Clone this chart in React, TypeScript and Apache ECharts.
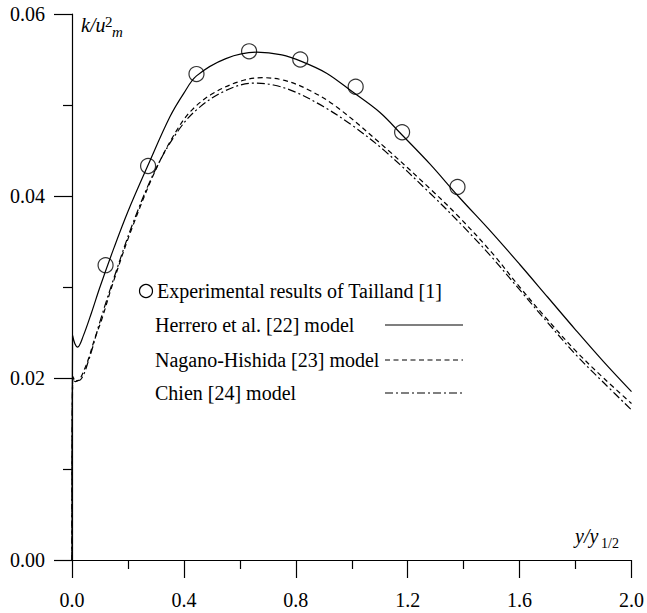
import { useEffect, useRef } from "react";
import * as echarts from "echarts";

// ---- data ----
const xTicks = { min: 0, max: 2.0, interval: 0.4 };
const yTicks = { min: 0, max: 0.06, interval: 0.02 };

const experimental: [number, number][] = [
  [0.12, 0.0324], [0.272, 0.0433], [0.445, 0.0534], [0.633, 0.0559],
  [0.816, 0.0550], [1.014, 0.0520], [1.18, 0.0470], [1.378, 0.0410],
];

const herrero: [number, number][] = [
  [0, 0], [0.002, 0.0247], [0.01, 0.0238], [0.02, 0.0234], [0.04, 0.0246],
  [0.07, 0.0272], [0.1, 0.0300], [0.15, 0.0343], [0.2, 0.0383], [0.272, 0.0434],
  [0.35, 0.0487], [0.4, 0.0513], [0.445, 0.0532], [0.55, 0.0551], [0.66, 0.0558],
  [0.75, 0.0555], [0.82, 0.0548], [0.91, 0.0535], [1.0, 0.0515], [1.1, 0.0492],
  [1.18, 0.0467], [1.28, 0.0435], [1.38, 0.0400], [1.5, 0.0360], [1.6, 0.0325],
  [1.7, 0.0289], [1.8, 0.0253], [1.9, 0.0218], [2.0, 0.0185],
];

const nagano: [number, number][] = [
  [0, 0], [0.003, 0.0201], [0.012, 0.0196], [0.028, 0.0199], [0.045, 0.0210],
  [0.06, 0.0222], [0.08, 0.0242], [0.106, 0.0264], [0.145, 0.0303], [0.216, 0.0366],
  [0.304, 0.0432], [0.38, 0.0475], [0.43, 0.0495], [0.5, 0.0512], [0.6, 0.0526],
  [0.68, 0.0530], [0.76, 0.0527], [0.85, 0.0516], [0.95, 0.0497], [1.12, 0.0453],
  [1.28, 0.0408], [1.38, 0.0378], [1.5, 0.0338], [1.6, 0.0300], [1.7, 0.0264],
  [1.8, 0.0230], [1.9, 0.0200], [2.0, 0.0172],
];

const chien: [number, number][] = [
  [0, 0], [0.003, 0.0203], [0.012, 0.0197], [0.03, 0.0198], [0.06, 0.0220],
  [0.1, 0.0262], [0.15, 0.0310], [0.22, 0.0372], [0.3, 0.0430], [0.38, 0.0472],
  [0.45, 0.0496], [0.55, 0.0516], [0.65, 0.0524], [0.72, 0.0522], [0.8, 0.0514],
  [0.9, 0.0498], [1.0, 0.0478], [1.12, 0.0449], [1.28, 0.0403], [1.4, 0.0366],
  [1.5, 0.0333], [1.6, 0.0297], [1.7, 0.0261], [1.8, 0.0226], [1.9, 0.0195],
  [2.0, 0.0165],
];

const legendLabels = [
  "Experimental results of Tailland [1]",
  "Herrero et al. [22] model",
  "Nagano-Hishida [23] model",
  "Chien [24] model",
];

const FONT = "Liberation Serif";
const DASH = [5, 3.5];
const DASHDOT = [8, 3, 2, 3];

export default function App() {
  const ref = useRef<HTMLDivElement>(null);
  useEffect(() => {
    document.body.style.margin = "0";
    const chart = echarts.init(ref.current!, null, { renderer: "svg" });
    const axisLineStyle = { color: "#000", width: 1.2 };
    const lineSeries = (name: string, data: [number, number][], type: any) => ({
      name,
      type: "line",
      data,
      symbol: "none",
      showSymbol: false,
      smooth: 0.35,
      silent: true,
      lineStyle: { color: "#000", width: 1.2, type },
    });
    const legendYs = [291, 325, 360, 393];
    const txt = (size: number, italic = false) => `${italic ? "italic " : ""}${size}px "${FONT}", serif`;
    chart.setOption({
      animation: false,
      backgroundColor: "#fff",
      grid: { left: 72, right: 9, top: 14, bottom: 53 },
      xAxis: {
        type: "value",
        min: xTicks.min,
        max: xTicks.max,
        interval: xTicks.interval,
        axisLine: { lineStyle: axisLineStyle },
        axisTick: { length: 18, lineStyle: axisLineStyle },
        minorTick: { show: true, splitNumber: 2, length: 9, lineStyle: axisLineStyle },
        splitLine: { show: false },
        axisLabel: {
          margin: 30,
          color: "#000",
          fontFamily: FONT,
          fontSize: 20,
          formatter: (v: number) => v.toFixed(1),
        },
      },
      yAxis: {
        type: "value",
        min: yTicks.min,
        max: yTicks.max,
        interval: yTicks.interval,
        axisLine: { show: true, lineStyle: axisLineStyle },
        axisTick: { show: true, length: 18, lineStyle: axisLineStyle },
        minorTick: { show: true, splitNumber: 2, length: 9, lineStyle: axisLineStyle },
        splitLine: { show: false },
        axisLabel: {
          margin: 27,
          color: "#000",
          fontFamily: FONT,
          fontSize: 20,
          formatter: (v: number) => v.toFixed(2),
        },
      },
      series: [
        lineSeries(legendLabels[1], herrero, "solid"),
        lineSeries(legendLabels[2], nagano, DASH),
        lineSeries(legendLabels[3], chien, DASHDOT),
        {
          name: legendLabels[0],
          type: "scatter",
          data: experimental,
          symbol: "circle",
          symbolSize: 15,
          silent: true,
          z: 5,
          itemStyle: { color: "rgba(0,0,0,0)", borderColor: "#000", borderWidth: 1.2 },
        },
      ],
      graphic: [
        // axis titles
        { type: "text", x: 81, y: 25, style: { text: "k/u", font: txt(20, true), fill: "#000", verticalAlign: "middle" } },
        { type: "text", x: 105, y: 22, style: { text: "2", font: txt(15), fill: "#000", verticalAlign: "middle" } },
        { type: "text", x: 112, y: 32, style: { text: "m", font: txt(15, true), fill: "#000", verticalAlign: "middle" } },
        { type: "text", x: 575, y: 536, style: { text: "y/y", font: txt(20, true), fill: "#000", verticalAlign: "middle" } },
        { type: "text", x: 601, y: 543, style: { text: "1/2", font: txt(14), fill: "#000", verticalAlign: "middle" } },
        // legend
        { type: "circle", shape: { cx: 146, cy: legendYs[0], r: 6.5 }, style: { fill: "none", stroke: "#000", lineWidth: 1.2 } },
        { type: "text", x: 157, y: legendYs[0], style: { text: legendLabels[0], font: txt(20), fill: "#000", verticalAlign: "middle" } },
        ...[1, 2, 3].flatMap((i) => [
          { type: "text", x: 155, y: legendYs[i], style: { text: legendLabels[i], font: txt(20), fill: "#000", verticalAlign: "middle" } },
          {
            type: "line",
            shape: { x1: 385, y1: legendYs[i], x2: 463, y2: legendYs[i] },
            style: { stroke: "#000", lineWidth: 1.2, lineDash: i === 1 ? null : i === 2 ? DASH : DASHDOT },
          },
        ]),
      ],
    });
    return () => chart.dispose();
  }, []);
  return <div ref={ref} style={{ width: 647, height: 613 }} />;
}
